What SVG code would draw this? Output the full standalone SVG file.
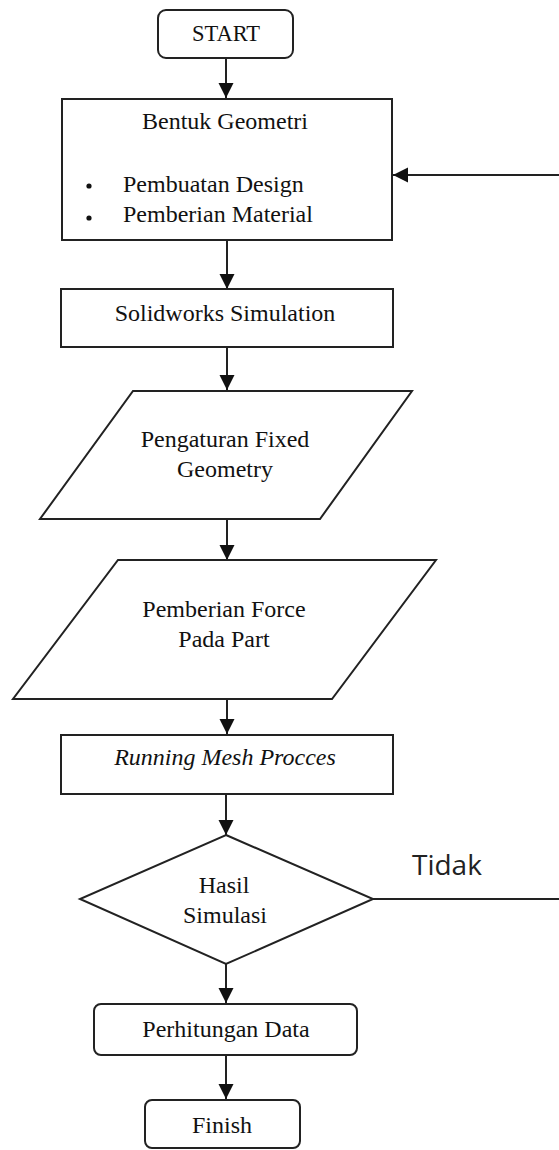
<svg xmlns="http://www.w3.org/2000/svg" width="559" height="1150" viewBox="0 0 559 1150">
<style>
.shape{fill:#fff;stroke:#222;stroke-width:2}
.t{font-family:"Liberation Serif","Times New Roman",serif;font-size:24px;fill:#111;text-anchor:middle}
.ti{font-style:italic}
.conn{stroke:#222;stroke-width:2;fill:none}
.lbl{font-family:"Open Sans","Liberation Sans",sans-serif;font-size:28px;fill:#222}
</style>
<defs>
<marker id="arr" markerUnits="userSpaceOnUse" markerWidth="16" markerHeight="16" refX="15" refY="7.5" orient="auto">
<path d="M0,0 L15,7.5 L0,15 z" fill="#111"/>
</marker>
</defs>
<rect width="559" height="1150" fill="#fff"/>
<g id="connectors">
<line class="conn" x1="226" y1="58" x2="226" y2="98" marker-end="url(#arr)"/>
<line class="conn" x1="227" y1="241" x2="227" y2="289" marker-end="url(#arr)"/>
<line class="conn" x1="227" y1="347" x2="227" y2="390" marker-end="url(#arr)"/>
<line class="conn" x1="227" y1="520" x2="227" y2="560" marker-end="url(#arr)"/>
<line class="conn" x1="227" y1="699" x2="227" y2="734" marker-end="url(#arr)"/>
<line class="conn" x1="226" y1="794" x2="226" y2="835" marker-end="url(#arr)"/>
<line class="conn" x1="226" y1="964" x2="226" y2="1003" marker-end="url(#arr)"/>
<line class="conn" x1="226" y1="1055" x2="226" y2="1099" marker-end="url(#arr)"/>
<line class="conn" x1="373" y1="899" x2="559" y2="899"/>
<line class="conn" x1="559" y1="175" x2="393" y2="175" marker-end="url(#arr)"/>
<text class="lbl" x="412" y="875">Tidak</text>
</g>
<g id="start">
<rect class="shape" x="158" y="10" width="135" height="48" rx="8"/>
<text class="t" x="226" y="41" style="font-size:22.5px">START</text>
</g>
<g id="bentuk-geometri">
<rect class="shape" x="62" y="99" width="330" height="141"/>
<text class="t" x="225" y="129">Bentuk Geometri</text>
<circle cx="89" cy="186" r="2.6" fill="#111"/>
<circle cx="89" cy="218" r="2.6" fill="#111"/>
<text class="t" x="123" y="192" style="text-anchor:start">Pembuatan Design</text>
<text class="t" x="123" y="222" style="text-anchor:start">Pemberian Material</text>
</g>
<g id="solidworks-simulation">
<rect class="shape" x="61" y="289" width="332" height="58"/>
<text class="t" x="225" y="321">Solidworks Simulation</text>
</g>
<g id="pengaturan-fixed-geometry">
<polygon class="shape" points="133,391 412,391 320,519 40,519"/>
<text class="t" x="225" y="447">Pengaturan Fixed</text>
<text class="t" x="225" y="477">Geometry</text>
</g>
<g id="pemberian-force">
<polygon class="shape" points="118,560 436,560 332,699 13,699"/>
<text class="t" x="224" y="617">Pemberian Force</text>
<text class="t" x="224" y="647">Pada Part</text>
</g>
<g id="running-mesh">
<rect class="shape" x="61" y="735" width="332" height="59"/>
<text class="t ti" x="225" y="765">Running Mesh Procces</text>
</g>
<g id="hasil-simulasi">
<polygon class="shape" points="226,835 373,899 226,964 80,899"/>
<text class="t" x="224" y="893">Hasil</text>
<text class="t" x="225" y="923">Simulasi</text>
</g>
<g id="perhitungan-data">
<rect class="shape" x="94" y="1004" width="263" height="51" rx="7"/>
<text class="t" x="226" y="1037">Perhitungan Data</text>
</g>
<g id="finish">
<rect class="shape" x="145" y="1100" width="155" height="48" rx="7"/>
<text class="t" x="222" y="1133">Finish</text>
</g>
</svg>
